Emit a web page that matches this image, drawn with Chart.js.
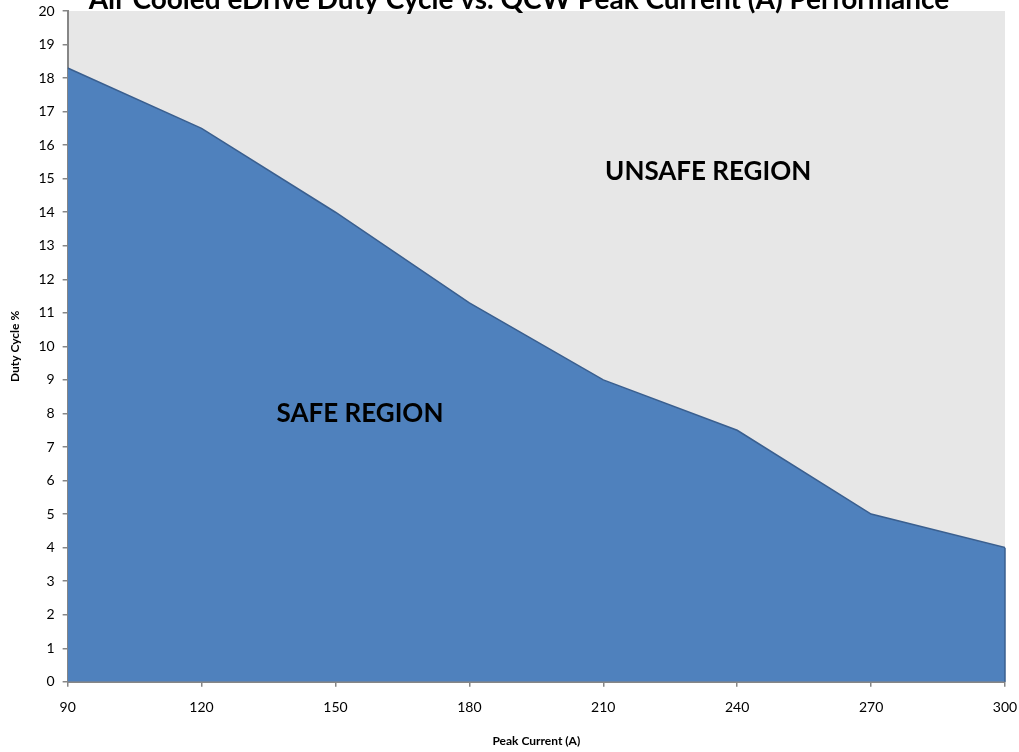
<!DOCTYPE html>
<html>
<head>
<meta charset="utf-8">
<script src="https://cdn.jsdelivr.net/npm/chart.js@4/dist/chart.umd.min.js"></script>
<style>
  html, body { margin: 0; padding: 0; background: #fff; }
  #wrap { width: 1019px; height: 752px; }
</style>
</head>
<body>
<div id="wrap"><canvas id="dutyChart"></canvas></div>
<script>
// datos
const peakCurrent = [90, 120, 150, 180, 210, 240, 270, 300];
const dutyCycle = [18.3, 16.5, 14.0, 11.3, 9.0, 7.5, 5.0, 4.0];
const xTicks = [90, 120, 150, 180, 210, 240, 270, 300];

const FONT = 'Lato, "Open Sans", sans-serif';

// fondo gris del área de trazado + título recortado + rótulos
const decor = {
  id: 'decor',
  beforeDraw(chart) {
    const { ctx, chartArea: a } = chart;
    ctx.save();
    ctx.fillStyle = '#e7e7e7';
    ctx.fillRect(a.left, a.top, a.right - a.left, a.bottom - a.top);
    ctx.restore();
  },
  afterDraw(chart) {
    const { ctx, scales: { x, y } } = chart;
    ctx.save();
    // borde derecho del área
    ctx.strokeStyle = '#3a5f8f';
    ctx.lineWidth = 1.5;
    ctx.beginPath();
    ctx.moveTo(x.getPixelForValue(300), y.getPixelForValue(dutyCycle[dutyCycle.length - 1]));
    ctx.lineTo(x.getPixelForValue(300), y.getPixelForValue(0));
    ctx.stroke();

    ctx.fillStyle = '#000';
    ctx.textAlign = 'center';
    ctx.textBaseline = 'alphabetic';
    ctx.font = 'bold 28px ' + FONT;
    ctx.fillText('Air Cooled eDrive Duty Cycle vs. QCW Peak Current (A) Performance', 519, 9);

    ctx.textBaseline = 'middle';
    ctx.font = 'bold 26px ' + FONT;
    ctx.fillText('UNSAFE REGION', x.getPixelForValue(233.5), y.getPixelForValue(15.2));
    ctx.fillText('SAFE REGION', x.getPixelForValue(155.5), y.getPixelForValue(8.0));
    ctx.restore();
  }
};

new Chart(document.getElementById('dutyChart'), {
  type: 'line',
  data: {
    datasets: [{
      data: peakCurrent.map((v, i) => ({ x: v, y: dutyCycle[i] })),
      backgroundColor: '#4f81bd',
      borderColor: '#3a5f8f',
      borderWidth: 1.5,
      fill: 'origin',
      pointRadius: 0,
      tension: 0
    }]
  },
  options: {
    responsive: true,
    maintainAspectRatio: false,
    animation: false,
    layout: { padding: { top: 11, right: 14, left: 4, bottom: 0 } },
    plugins: {
      legend: { display: false },
      tooltip: { enabled: false }
    },
    scales: {
      x: {
        type: 'linear',
        min: 90,
        max: 300,
        afterBuildTicks: s => { s.ticks = xTicks.map(v => ({ value: v })); },
        afterFit: s => { s.paddingRight = 0; s.paddingLeft = 0; },
        border: { color: '#868686', width: 2 },
        grid: { drawOnChartArea: false, color: '#868686', tickLength: 5, lineWidth: 1.5 },
        ticks: { color: '#000', font: { family: FONT, size: 14 }, padding: 12, maxRotation: 0 },
        title: { display: true, text: 'Peak Current (A)', color: '#000', font: { family: FONT, size: 12, weight: 'bold' }, padding: { top: 6 } }
      },
      y: {
        min: 0,
        max: 20,
        afterFit: s => { s.paddingTop = 0; s.paddingBottom = 0; },
        ticks: { stepSize: 1, color: '#000', font: { family: FONT, size: 14 }, padding: 8 },
        border: { color: '#868686', width: 2 },
        grid: { drawOnChartArea: false, color: '#868686', tickLength: 5, lineWidth: 1.5 },
        title: { display: true, text: 'Duty Cycle %', color: '#000', font: { family: FONT, size: 12, weight: 'bold' }, padding: { bottom: 8 } }
      }
    }
  },
  plugins: [decor]
});
</script>
</body>
</html>
